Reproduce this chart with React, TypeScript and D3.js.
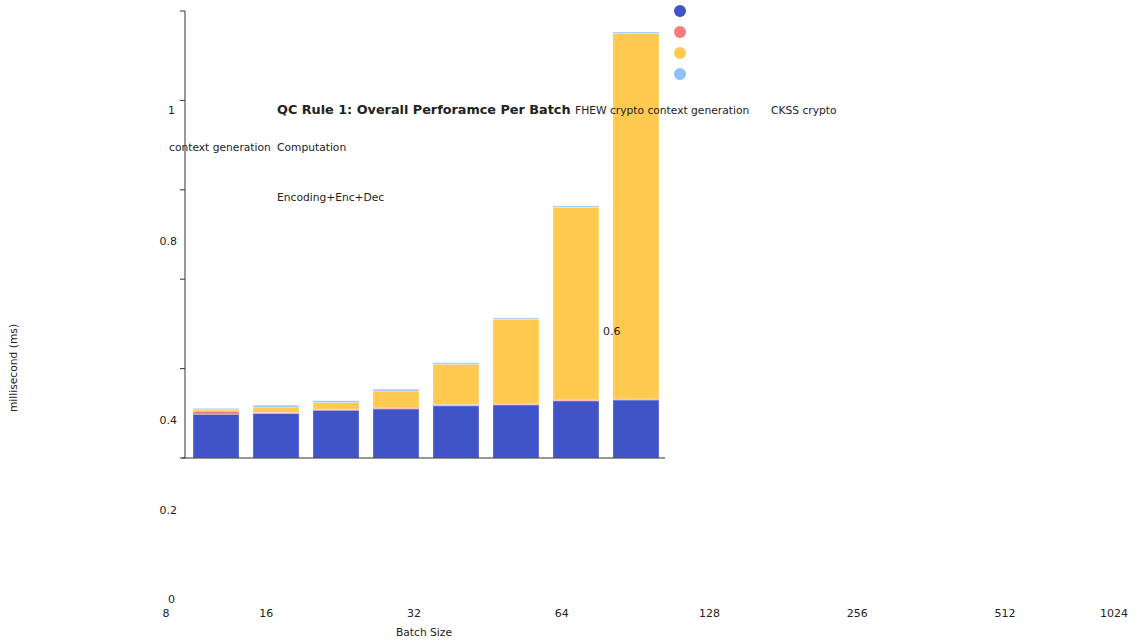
import React from "react";
import * as d3 from "d3";

const batches = ["b1", "b2", "b3", "b4", "b5", "b6", "b7", "b8"];
const computation = [0.098, 0.1, 0.107, 0.11, 0.117, 0.119, 0.128, 0.13];
const fhewGen = [0.007, 0.002, 0.002, 0.002, 0.003, 0.002, 0.002, 0.002];
const encEncDec = [0.003, 0.012, 0.015, 0.038, 0.09, 0.189, 0.431, 0.818];
const ckksGen = [0.003, 0.004, 0.004, 0.004, 0.003, 0.003, 0.003, 0.003];
const seriesNames = ["Computation", "FHEW crypto context generation", "Encoding+Enc+Dec", "CKSS crypto context generation"];
const seriesColors = ["#4053c7", "#ff7b7b", "#ffca4f", "#8ec1ff"];
const yTickValues = [0, 0.2, 0.4, 0.6, 0.8, 1];
const yTickLabels = ["0", "0.2", "0.4", "0.6", "0.8", "1"];
const xTickValues = [8, 16, 32, 64, 128, 256, 512, 1024];

const W = 1145;
const H = 641;
const FONT = "DejaVu Sans, Verdana, sans-serif";

export default function App() {
  const x = d3.scaleBand<string>().domain(batches).range([186, 666]).paddingInner(0.233).paddingOuter(0.117);
  const y = d3.scaleLinear().domain([0, 1]).range([458, 11]);
  const yLab = d3.scaleLinear().domain([0, 1]).range([603, 156]);
  const xLog = d3.scaleLog().base(2).domain([32, 512]).range([414, 1005]);

  const table = batches.map((b, i) => ({
    b,
    s0: computation[i],
    s1: fhewGen[i],
    s2: encEncDec[i],
    s3: ckksGen[i],
  }));
  const stack = d3.stack<any>().keys(["s0", "s1", "s2", "s3"])(table);

  const yTicks = y.ticks(5);
  const axisColor = "#333";
  const fs = 10.7;

  return (
    <svg width={W} height={H} style={{ position: "absolute", left: 0, top: 0, fontFamily: FONT }}>
      {stack.map((layer, li) => (
        <g key={li} fill={seriesColors[li]}>
          {layer.map((d, i) => (
            <rect
              key={i}
              x={x(d.data.b)}
              width={x.bandwidth()}
              y={y(d[1])}
              height={Math.max(0, y(d[0]) - y(d[1]))}
              stroke="#ffffff"
              strokeOpacity={0.35}
              strokeWidth={1}
            />
          ))}
        </g>
      ))}

      <line x1={185} x2={185} y1={y(1)} y2={y(0)} stroke={axisColor} strokeWidth={1} />
      {yTicks.map((t, i) => (
        <line key={i} x1={180} x2={185} y1={y(t)} y2={y(t)} stroke={axisColor} strokeWidth={1} />
      ))}
      <line x1={182} x2={665} y1={y(0)} y2={y(0)} stroke={axisColor} strokeWidth={1.2} />

      {yTickValues.map((v, i) => {
        let tx = 177;
        let ty = yLab(v);
        let anchor: any = "end";
        if (v === 1) {
          ty = 114;
          tx = 175;
        }
        if (v === 0) tx = 175;
        if (v === 0.6) {
          tx = 603;
          anchor = "start";
        }
        return (
          <text key={i} x={tx} y={ty} fontSize={11} textAnchor={anchor} fill="#222">
            {yTickLabels[i]}
          </text>
        );
      })}

      {xTickValues.map((v, i) => {
        const px = Math.min(1114, Math.max(166, xLog(v)));
        return (
          <text key={i} x={px} y={617} fontSize={11} textAnchor="middle" fill="#222">
            {String(v)}
          </text>
        );
      })}

      <text x={424} y={636} fontSize={fs} textAnchor="middle" fill="#222">
        Batch Size
      </text>
      <text transform="translate(17,368) rotate(-90)" fontSize={fs} textAnchor="middle" fill="#222">
        millisecond (ms)
      </text>

      <text x={277} y={114} fontSize={12.8} fontWeight="bold" fill="#222">
        QC Rule 1: Overall Perforamce Per Batch
      </text>
      <text x={575} y={114} fontSize={fs} fill="#222">
        FHEW crypto context generation
      </text>
      <text x={771} y={114} fontSize={fs} fill="#222">
        CKSS crypto
      </text>
      <text x={169} y={151} fontSize={fs} fill="#222">
        context generation
      </text>
      <text x={277} y={151} fontSize={fs} fill="#222">
        {seriesNames[0]}
      </text>
      <text x={277} y={201} fontSize={fs} fill="#222">
        {seriesNames[2]}
      </text>

      {seriesColors.map((c, i) => (
        <circle key={i} cx={680} cy={11 + i * 21} r={6} fill={c} />
      ))}
    </svg>
  );
}
